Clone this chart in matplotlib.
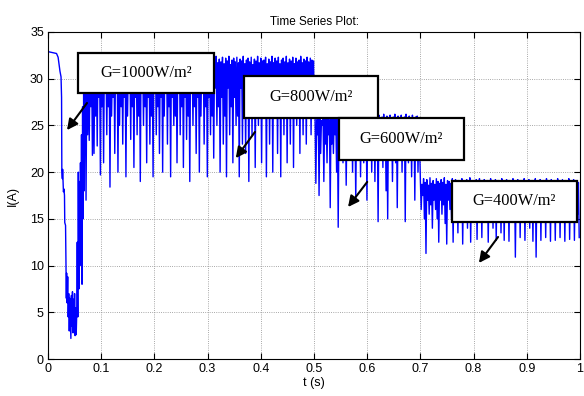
import numpy as np
import matplotlib.pyplot as plt

# start-up transient, read point by point
t_start = [0.000, 0.016, 0.019, 0.0225, 0.0245, 0.0255, 0.026, 0.027, 0.0275, 0.028,
           0.029, 0.030, 0.031, 0.0315, 0.033, 0.034, 0.0345, 0.035, 0.036, 0.037,
           0.038, 0.039, 0.040, 0.041, 0.042, 0.043, 0.044, 0.045, 0.046, 0.047,
           0.048, 0.049, 0.050, 0.051, 0.052, 0.053, 0.054, 0.055, 0.056, 0.057,
           0.058, 0.059, 0.060, 0.061, 0.062, 0.063, 0.064, 0.065, 0.066, 0.067,
           0.068, 0.069]
i_start = [32.9, 32.7, 32.3, 30.8, 30.2, 28.0, 20.2, 19.3, 20.3, 19.5,
           17.9, 18.2, 17.5, 14.6, 14.3, 9.0, 6.5, 9.2, 6.0, 8.8,
           4.5, 7.0, 3.0, 6.5, 4.2, 2.2, 6.8, 3.5, 7.2, 2.8,
           6.4, 3.2, 7.0, 2.5, 5.5, 2.6, 4.8, 12.5, 4.5, 20.0,
           7.5, 19.0, 10.0, 21.0, 13.5, 24.0, 8.0, 27.0, 15.0, 28.5,
           18.0, 29.5]

# switching ripple: upper and lower values per period, three irradiance levels
step = 0.003
seg_start = [0.070, 0.502, 0.700]

peaks_1000 = [30.5, 30.8, 31.2, 31.0, 31.5, 31.3, 31.8, 31.6, 32.0, 31.4, 32.1, 31.7,
              32.2, 31.5, 32.0, 31.8, 32.3, 31.2, 32.0, 31.9, 32.4, 31.6, 32.1, 31.4,
              32.2, 31.8, 32.3, 31.5, 32.0, 32.4, 31.7, 32.1, 31.3, 32.2, 31.9, 32.3,
              31.6, 32.1, 31.8, 32.4, 31.5, 32.0, 32.2, 31.7, 32.3, 31.9, 32.0, 31.4,
              32.2, 31.8, 32.4, 31.6, 32.1, 31.9, 32.3, 31.5, 32.0, 32.2, 31.7, 32.4,
              31.8, 32.1, 31.5, 32.3, 31.9, 32.0, 32.4, 31.6, 32.2, 31.8, 32.3, 31.7,
              32.0, 32.4, 31.6, 32.2, 31.9, 32.1, 31.5, 32.3, 31.8, 32.0, 32.4, 31.7,
              32.1, 31.8, 32.3, 31.6, 32.2, 31.9, 32.4, 31.5, 32.0, 32.2, 31.8, 32.3,
              31.7, 32.1, 31.9, 32.4, 31.6, 32.0, 32.2, 31.8, 32.3, 31.5, 32.1, 31.9,
              32.4, 31.7, 32.2, 31.9, 32.0, 32.3, 31.6, 32.1, 31.8, 32.4, 31.7, 32.2,
              31.9, 32.3, 31.6, 32.0, 32.2, 31.8, 32.4, 31.7, 32.1, 31.9, 32.3, 31.6,
              32.2, 31.8, 32.0, 32.4, 31.7, 32.1, 31.9, 32.3, 31.8, 32.2, 32.0, 31.9]
dips_1000 = [17.0, 24.0, 23.4, 27.0, 21.8, 22.0, 26.0, 22.8, 28.0, 19.7, 27.0, 21.0,
             29.0, 24.0, 27.0, 18.4, 26.0, 28.0, 22.0, 29.0, 20.0, 25.0, 27.0, 23.0,
             28.0, 19.5, 26.0, 29.0, 23.5, 27.0, 20.5, 28.0, 24.0, 26.0, 19.0, 29.0,
             25.0, 27.0, 21.0, 28.0, 23.0, 26.0, 19.5, 29.0, 24.0, 27.0, 22.0, 28.0,
             20.0, 26.0, 29.0, 23.0, 27.0, 19.5, 28.0, 25.0, 26.0, 21.0, 29.0, 24.0,
             27.0, 20.5, 28.0, 23.5, 26.0, 19.0, 29.0, 25.0, 27.0, 22.0, 28.0, 20.0,
             26.0, 29.0, 23.0, 27.0, 19.5, 28.0, 24.0, 26.0, 21.5, 29.0, 25.0, 27.0,
             20.0, 28.0, 23.0, 26.0, 19.5, 29.0, 24.0, 27.0, 21.0, 28.0, 25.0, 26.0,
             19.5, 29.0, 23.0, 27.0, 22.0, 28.0, 19.0, 26.0, 24.0, 29.0, 20.5, 27.0,
             25.0, 28.0, 21.0, 26.0, 29.0, 19.5, 27.0, 23.0, 28.0, 20.0, 26.0, 29.0,
             22.0, 27.0, 19.5, 28.0, 24.0, 26.0, 21.0, 29.0, 23.0, 27.0, 20.5, 28.0,
             25.0, 26.0, 22.0, 29.0, 24.0, 27.0, 23.0, 28.0, 26.0, 24.0, 29.0, 27.0]

peaks_600 = [26.0, 25.6, 26.2, 25.8, 25.5, 26.1, 25.9, 25.7, 26.2, 25.6, 26.0, 25.8,
             26.1, 25.7, 25.9, 26.2, 25.5, 26.0, 25.8, 26.1, 25.6, 25.9, 26.2, 25.7,
             26.0, 25.8, 26.1, 25.6, 25.9, 26.2, 25.7, 26.0, 25.8, 26.1, 25.5, 25.9,
             26.2, 25.7, 26.0, 25.8, 26.1, 25.6, 25.9, 26.2, 25.7, 26.0, 25.8, 26.1,
             25.6, 25.9, 26.2, 25.7, 26.0, 25.8, 26.1, 25.5, 25.9, 26.2, 25.7, 26.0,
             25.8, 26.1, 25.6, 25.9, 26.0, 25.7]
dips_600 = [18.8, 24.0, 17.5, 22.0, 25.0, 19.0, 23.0, 21.0, 24.0, 16.2, 23.0, 22.0,
            24.0, 20.0, 14.1, 23.0, 24.5, 21.0, 23.0, 18.6, 24.0, 22.0, 25.0, 20.0,
            23.0, 17.0, 24.0, 22.0, 19.5, 24.0, 21.0, 23.0, 17.0, 24.0, 22.0, 20.0,
            23.5, 19.0, 24.0, 14.7, 22.0, 24.0, 20.5, 23.0, 18.0, 15.0, 24.0, 22.0,
            19.0, 24.0, 21.0, 16.2, 23.0, 24.0, 20.0, 22.0, 14.7, 24.0, 21.0, 23.0,
            19.5, 24.0, 17.0, 22.0, 20.0, 23.0]

peaks_400 = [19.0, 18.7, 19.3, 18.9, 19.2, 18.6, 19.4, 18.8, 19.1, 18.7, 19.3, 19.0,
             18.8, 19.2, 18.9, 19.4, 18.7, 19.1, 19.0, 18.8, 19.3, 18.9, 19.2, 18.7,
             19.1, 18.9, 19.3, 18.8, 19.0, 19.2, 18.7, 19.4, 18.9, 19.1, 18.8, 19.2,
             18.9, 19.3, 18.8, 19.0, 19.2, 18.7, 19.1, 18.9, 19.3, 18.8, 19.0, 19.2,
             18.7, 19.1, 18.9, 19.3, 18.8, 19.0, 19.2, 18.9, 19.1, 18.7, 19.3, 18.9,
             19.0, 19.2, 18.8, 19.1, 18.9, 19.3, 18.7, 19.0, 19.2, 18.8, 19.1, 18.9,
             19.3, 18.8, 19.0, 19.2, 18.7, 19.1, 18.9, 19.3, 18.8, 19.0, 19.2, 18.9,
             19.1, 18.7, 19.3, 18.9, 19.0, 19.2, 18.8, 19.1, 18.9, 19.3, 18.7, 19.0,
             19.2, 18.8, 19.1, 18.9]
dips_400 = [16.0, 17.5, 15.0, 11.3, 17.0, 15.5, 16.5, 14.0, 17.0, 16.0, 15.0, 12.5,
            17.0, 15.5, 16.5, 14.5, 12.3, 17.0, 16.0, 15.0, 12.5, 17.5, 16.0, 13.5,
            17.0, 15.5, 12.3, 17.5, 16.5, 14.0, 17.0, 12.5, 17.5, 16.0, 15.0, 12.8,
            17.5, 16.5, 13.0, 17.5, 15.5, 17.0, 12.5, 17.5, 16.0, 14.0, 17.5, 12.7,
            17.0, 16.0, 13.5, 17.5, 12.7, 17.0, 15.5, 12.6, 17.5, 16.0, 17.0, 10.9,
            17.5, 16.0, 13.0, 17.5, 15.5, 12.7, 17.0, 16.5, 14.0, 17.5, 12.6, 17.0,
            10.9, 17.5, 15.5, 12.7, 17.0, 16.5, 13.0, 17.5, 15.0, 12.6, 17.0, 16.0,
            12.7, 17.5, 15.5, 13.0, 17.0, 16.5, 12.6, 17.5, 15.0, 12.8, 17.0, 16.0,
            12.7, 17.5, 15.5, 13.0]

labels = ['G=1000W/m²', 'G=800W/m²', 'G=600W/m²', 'G=400W/m²']

# build the time series: upper value, then lower value half a period later
t = list(t_start)
i = list(i_start)
for t0, peaks, dips in zip(seg_start, [peaks_1000, peaks_600, peaks_400],
                           [dips_1000, dips_600, dips_400]):
    for k in range(len(peaks)):
        t.append(t0 + k * step)
        i.append(peaks[k])
        t.append(t0 + k * step + step / 2)
        i.append(dips[k])

plt.rcParams['font.family'] = ['Liberation Sans', 'DejaVu Sans']

fig = plt.figure(figsize=(5.84, 3.96), dpi=100)
ax = fig.add_axes([48 / 584, 37 / 396, 532 / 584, 327 / 396])
ax.plot(t, i, color='#0000ff', lw=1.0)

ax.set_xlim(0, 1)
ax.set_ylim(0, 35)
ax.set_xticks(np.arange(0, 1.01, 0.1))
ax.set_xticklabels(['0', '0.1', '0.2', '0.3', '0.4', '0.5', '0.6', '0.7', '0.8', '0.9', '1'])
ax.set_yticks(range(0, 36, 5))
ax.tick_params(direction='in', top=True, right=True, length=4, labelsize=9, pad=3)
ax.grid(True, color='0.55', linestyle=':', lw=0.6)
for s in ax.spines.values():
    s.set_linewidth(0.8)

ax.set_title('Time Series Plot:', fontsize=8.5, pad=5)
ax.set_xlabel('t (s)', fontsize=9, labelpad=1)
ax.set_ylabel('I(A)', fontsize=9, labelpad=8)

# boxed labels with arrows
boxes = [(0.0564, 28.48, 0.2556, 4.28),
         (0.368, 25.8, 0.252, 4.5),
         (0.547, 21.3, 0.235, 4.5),
         (0.759, 14.67, 0.235, 4.39)]
arrows = [((0.0733, 27.4), (0.0357, 24.5)),
          ((0.389, 24.3), (0.353, 21.5)),
          ((0.600, 18.95), (0.564, 16.27)),
          ((0.846, 13.06), (0.810, 10.28))]
for lab, (x0, y0, w, h), (tail, head) in zip(labels, boxes, arrows):
    ax.add_patch(plt.Rectangle((x0, y0), w, h, facecolor='white', edgecolor='black',
                               lw=1.6, zorder=5))
    ax.text(x0 + w / 2, y0 + h / 2, lab, ha='center', va='center', fontsize=11.8,
            family=['Liberation Serif', 'DejaVu Serif'], zorder=6)
    ax.annotate('', xy=head, xytext=tail,
                arrowprops=dict(arrowstyle='-|>', color='black', lw=1.5,
                                mutation_scale=16, shrinkA=0, shrinkB=0), zorder=6)

fig.savefig('out.png', dpi=100)
